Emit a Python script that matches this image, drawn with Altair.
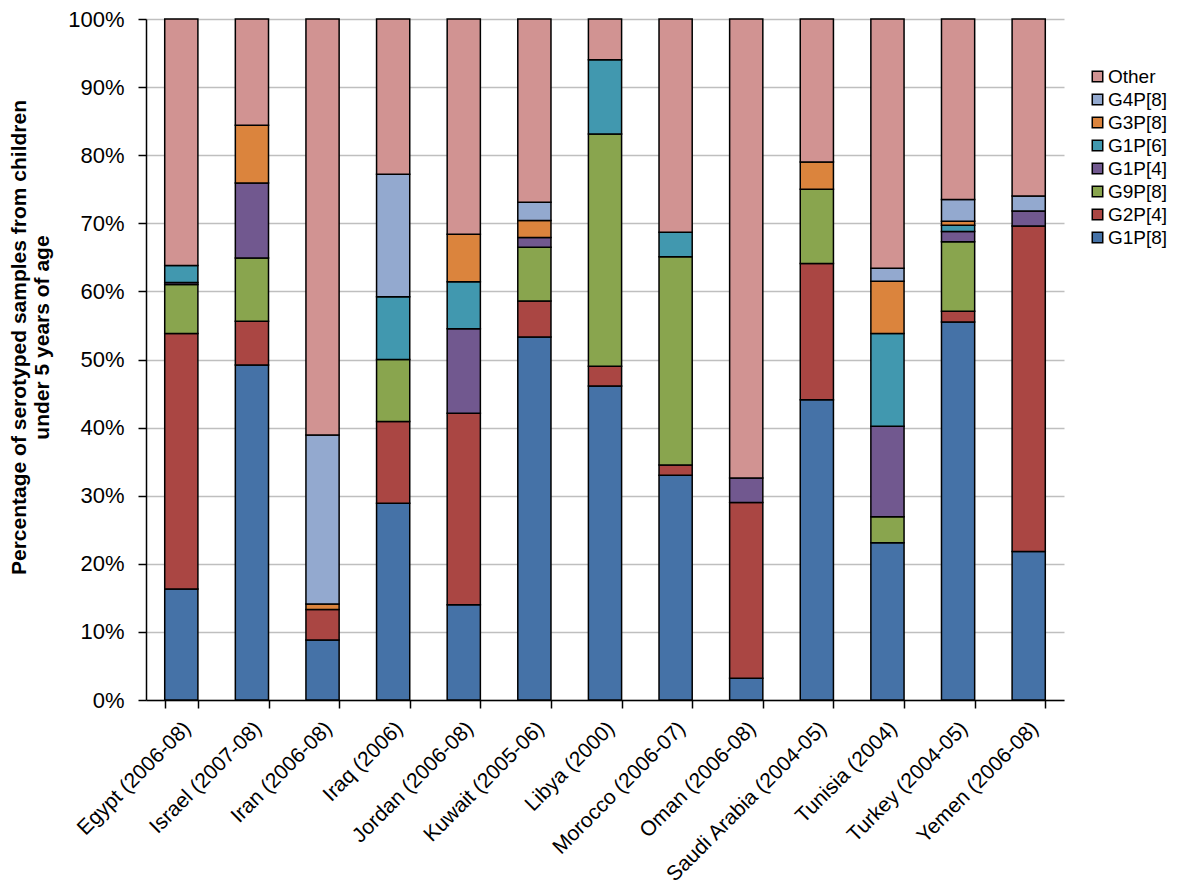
import altair as alt
import pandas as pd

countries = ["Egypt (2006-08)", "Israel (2007-08)", "Iran (2006-08)", "Iraq (2006)",
             "Jordan (2006-08)", "Kuwait (2005-06)", "Libya (2000)", "Morocco (2006-07)",
             "Oman (2006-08)", "Saudi Arabia (2004-05)", "Tunisia (2004)",
             "Turkey (2004-05)", "Yemen (2006-08)"]

# stacking order bottom -> top
serotypes = ["G1P[8]", "G2P[4]", "G9P[8]", "G1P[4]", "G1P[6]", "G3P[8]", "G4P[8]", "Other"]

g1p8  = [16.3, 49.2,  8.8, 28.9, 14.0, 53.3, 46.1, 33.0,  3.2, 44.1, 23.1, 55.5, 21.8]
g2p4  = [37.5,  6.4,  4.5, 12.0, 28.1,  5.3,  2.9,  1.5, 25.8, 20.0,  0.0,  1.6, 47.8]
g9p8  = [ 7.2,  9.3,  0.0,  9.1,  0.0,  7.9, 34.1, 30.6,  0.0, 10.9,  3.8, 10.2,  0.0]
g1p4  = [ 0.3, 11.0,  0.0,  0.0, 12.4,  1.4,  0.0,  0.0,  3.6,  0.0, 13.3,  1.5,  2.2]
g1p6  = [ 2.5,  0.0,  0.0,  9.2,  6.9,  0.0, 10.9,  3.6,  0.0,  0.0, 13.6,  0.9,  0.0]
g3p8  = [ 0.0,  8.5,  0.8,  0.0,  7.0,  2.5,  0.0,  0.0,  0.0,  4.0,  7.7,  0.6,  0.0]
g4p8  = [ 0.0,  0.0, 24.8, 18.0,  0.0,  2.7,  0.0,  0.0,  0.0,  0.0,  1.9,  3.2,  2.2]
other = [36.2, 15.6, 61.1, 22.8, 31.6, 26.9,  6.0, 31.3, 67.4, 21.0, 36.6, 26.5, 26.0]

series = [g1p8, g2p4, g9p8, g1p4, g1p6, g3p8, g4p8, other]
colors = ["#4572A7", "#AA4643", "#89A54E", "#71588F", "#4198AF", "#DB843D", "#93A9CF", "#D19392"]

rows = []
for si, (name, vals) in enumerate(zip(serotypes, series)):
    for c, v in zip(countries, vals):
        if v > 0:
            rows.append({"country": c, "serotype": name, "value": v, "idx": si})
df = pd.DataFrame(rows)

FONT = "Liberation Sans"

legend_domain = serotypes[::-1]
legend_colors = colors[::-1]

chart = alt.Chart(df).mark_bar(stroke="black", strokeWidth=1.5).encode(
    x=alt.X("country:N", sort=countries, title=None,
            scale=alt.Scale(paddingInner=0.53, paddingOuter=0.265),
            axis=alt.Axis(labelAngle=315, labelAlign="right", labelBaseline="middle",
                          labelFontSize=21, labelFont=FONT, labelColor="black",
                          labelPadding=17, labelOffset=6, labelLimit=0,
                          tickBand="extent", tickSize=8,
                          tickColor="black", tickWidth=1.5, domainColor="black",
                          domainWidth=1.5, grid=False, labelOverlap=False)),
    y=alt.Y("value:Q", stack="zero",
            scale=alt.Scale(domain=[0, 100], nice=False),
            title=["Percentage of serotyped samples from children", "under 5 years of age"],
            axis=alt.Axis(values=list(range(0, 101, 10)), labelExpr="datum.value + '%'",
                          labelFontSize=22, labelFont=FONT, labelColor="black",
                          labelPadding=14, tickSize=8, tickColor="black", tickWidth=1.5,
                          domainColor="black", domainWidth=1.5,
                          gridColor="#BFBFBF", gridWidth=1.5,
                          titleFont=FONT, titleFontSize=21, titleFontWeight="bold",
                          titleColor="black", titlePadding=15, titleLineHeight=23,
                          titleY=318)),
    color=alt.Color("serotype:N",
                    scale=alt.Scale(domain=legend_domain, range=legend_colors),
                    legend=alt.Legend(title=None, orient="none", legendX=942, legendY=48,
                                      symbolType="square", symbolSize=110,
                                      symbolStrokeColor="black", symbolStrokeWidth=1.5,
                                      labelFont=FONT, labelFontSize=19, labelColor="black",
                                      labelOffset=1, rowPadding=3)),
    order=alt.Order("idx:Q", sort="ascending"),
).properties(width=918, height=681,
             padding={"left": 0, "top": 0, "right": 0, "bottom": 0}
).configure_view(stroke=None)

chart.save("out.html", embed_options={"renderer": "svg", "actions": False})
